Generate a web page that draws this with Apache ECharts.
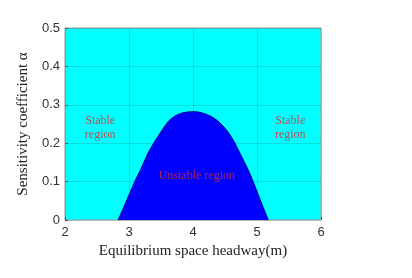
<!DOCTYPE html>
<html><head><meta charset="utf-8">
<script src="https://cdn.jsdelivr.net/npm/echarts@6/dist/echarts.min.js"></script>
<style>html,body{margin:0;padding:0;background:#fff}#c{width:412px;height:278px}</style>
</head><body><div id="c"></div>
<script>
const headway = [2.83, 2.943, 3.089, 3.18, 3.297, 3.385, 3.516, 3.62, 3.72, 3.84, 3.96, 4.04, 4.16, 4.28, 4.395, 4.527, 4.63, 4.734, 4.864, 4.94, 5.073, 5.177];
const alphaBound = [0, 0.043, 0.10, 0.131, 0.174, 0.200, 0.234, 0.258, 0.271, 0.279, 0.282, 0.282, 0.278, 0.270, 0.257, 0.234, 0.208, 0.174, 0.130, 0.10, 0.043, 0];
const xTicks = [2, 3, 4, 5, 6];
const yTicks = [0, 0.1, 0.2, 0.3, 0.4, 0.5];
const regionLabels = ['Stable\nregion', 'Stable\nregion', 'Unstable region'];
const labelX = [2.55, 5.52, 4.06];
const labelY = [0.24, 0.24, 0.115];

const chart = echarts.init(document.getElementById('c'));
const axisText = {fontFamily: 'Liberation Sans', fontSize: 13, color: '#333'};
chart.setOption({
  animation: false,
  grid: {left: 65, right: 91, top: 28, bottom: 58, show: true, backgroundColor: '#00ffff', borderColor: '#9a9a9a', borderWidth: 1},
  xAxis: {
    type: 'value', min: xTicks[0], max: xTicks[xTicks.length-1], interval: 1,
    name: 'Equilibrium space headway(m)', nameLocation: 'middle', nameGap: 20,
    nameTextStyle: {fontFamily: 'Liberation Serif', fontSize: 15, color: '#222'},
    axisLine: {show: false},
    axisTick: {show: true, inside: true, length: 3, lineStyle: {color: '#555'}},
    axisLabel: Object.assign({margin: 6}, axisText),
    splitLine: {show: true, lineStyle: {color: 'rgba(0,0,0,0.12)', width: 1}}
  },
  yAxis: {
    type: 'value', min: yTicks[0], max: yTicks[yTicks.length-1], interval: 0.1,
    name: 'Sensitivity coefficient α', nameLocation: 'middle', nameGap: 22,
    nameTextStyle: {fontFamily: 'Liberation Serif', fontSize: 15, color: '#222'},
    axisLine: {show: false},
    axisTick: {show: true, inside: true, length: 3, lineStyle: {color: '#555'}},
    axisLabel: Object.assign({margin: 5, formatter: v => String(Math.round(v*10)/10)}, axisText),
    splitLine: {show: true, lineStyle: {color: 'rgba(0,0,0,0.12)', width: 1}}
  },
  series: [
    {
      type: 'line', smooth: 0.2, symbol: 'none', z: 2,
      data: headway.map((x, i) => [x, alphaBound[i]]),
      lineStyle: {color: '#00008b', width: 1},
      areaStyle: {color: '#0000ff', opacity: 1}
    },
    {
      type: 'scatter', symbol: 'circle', symbolSize: 0, zlevel: 1, z: 10,
      silent: true,
      data: labelX.map((x, i) => ({value: [x, labelY[i]], name: regionLabels[i]})),
      label: {show: true, position: 'inside', formatter: p => p.name,
        fontFamily: 'Liberation Serif', fontSize: 12, color: '#d42a2a', lineHeight: 14, align: 'center'}
    }
  ]
});
</script></body></html>
